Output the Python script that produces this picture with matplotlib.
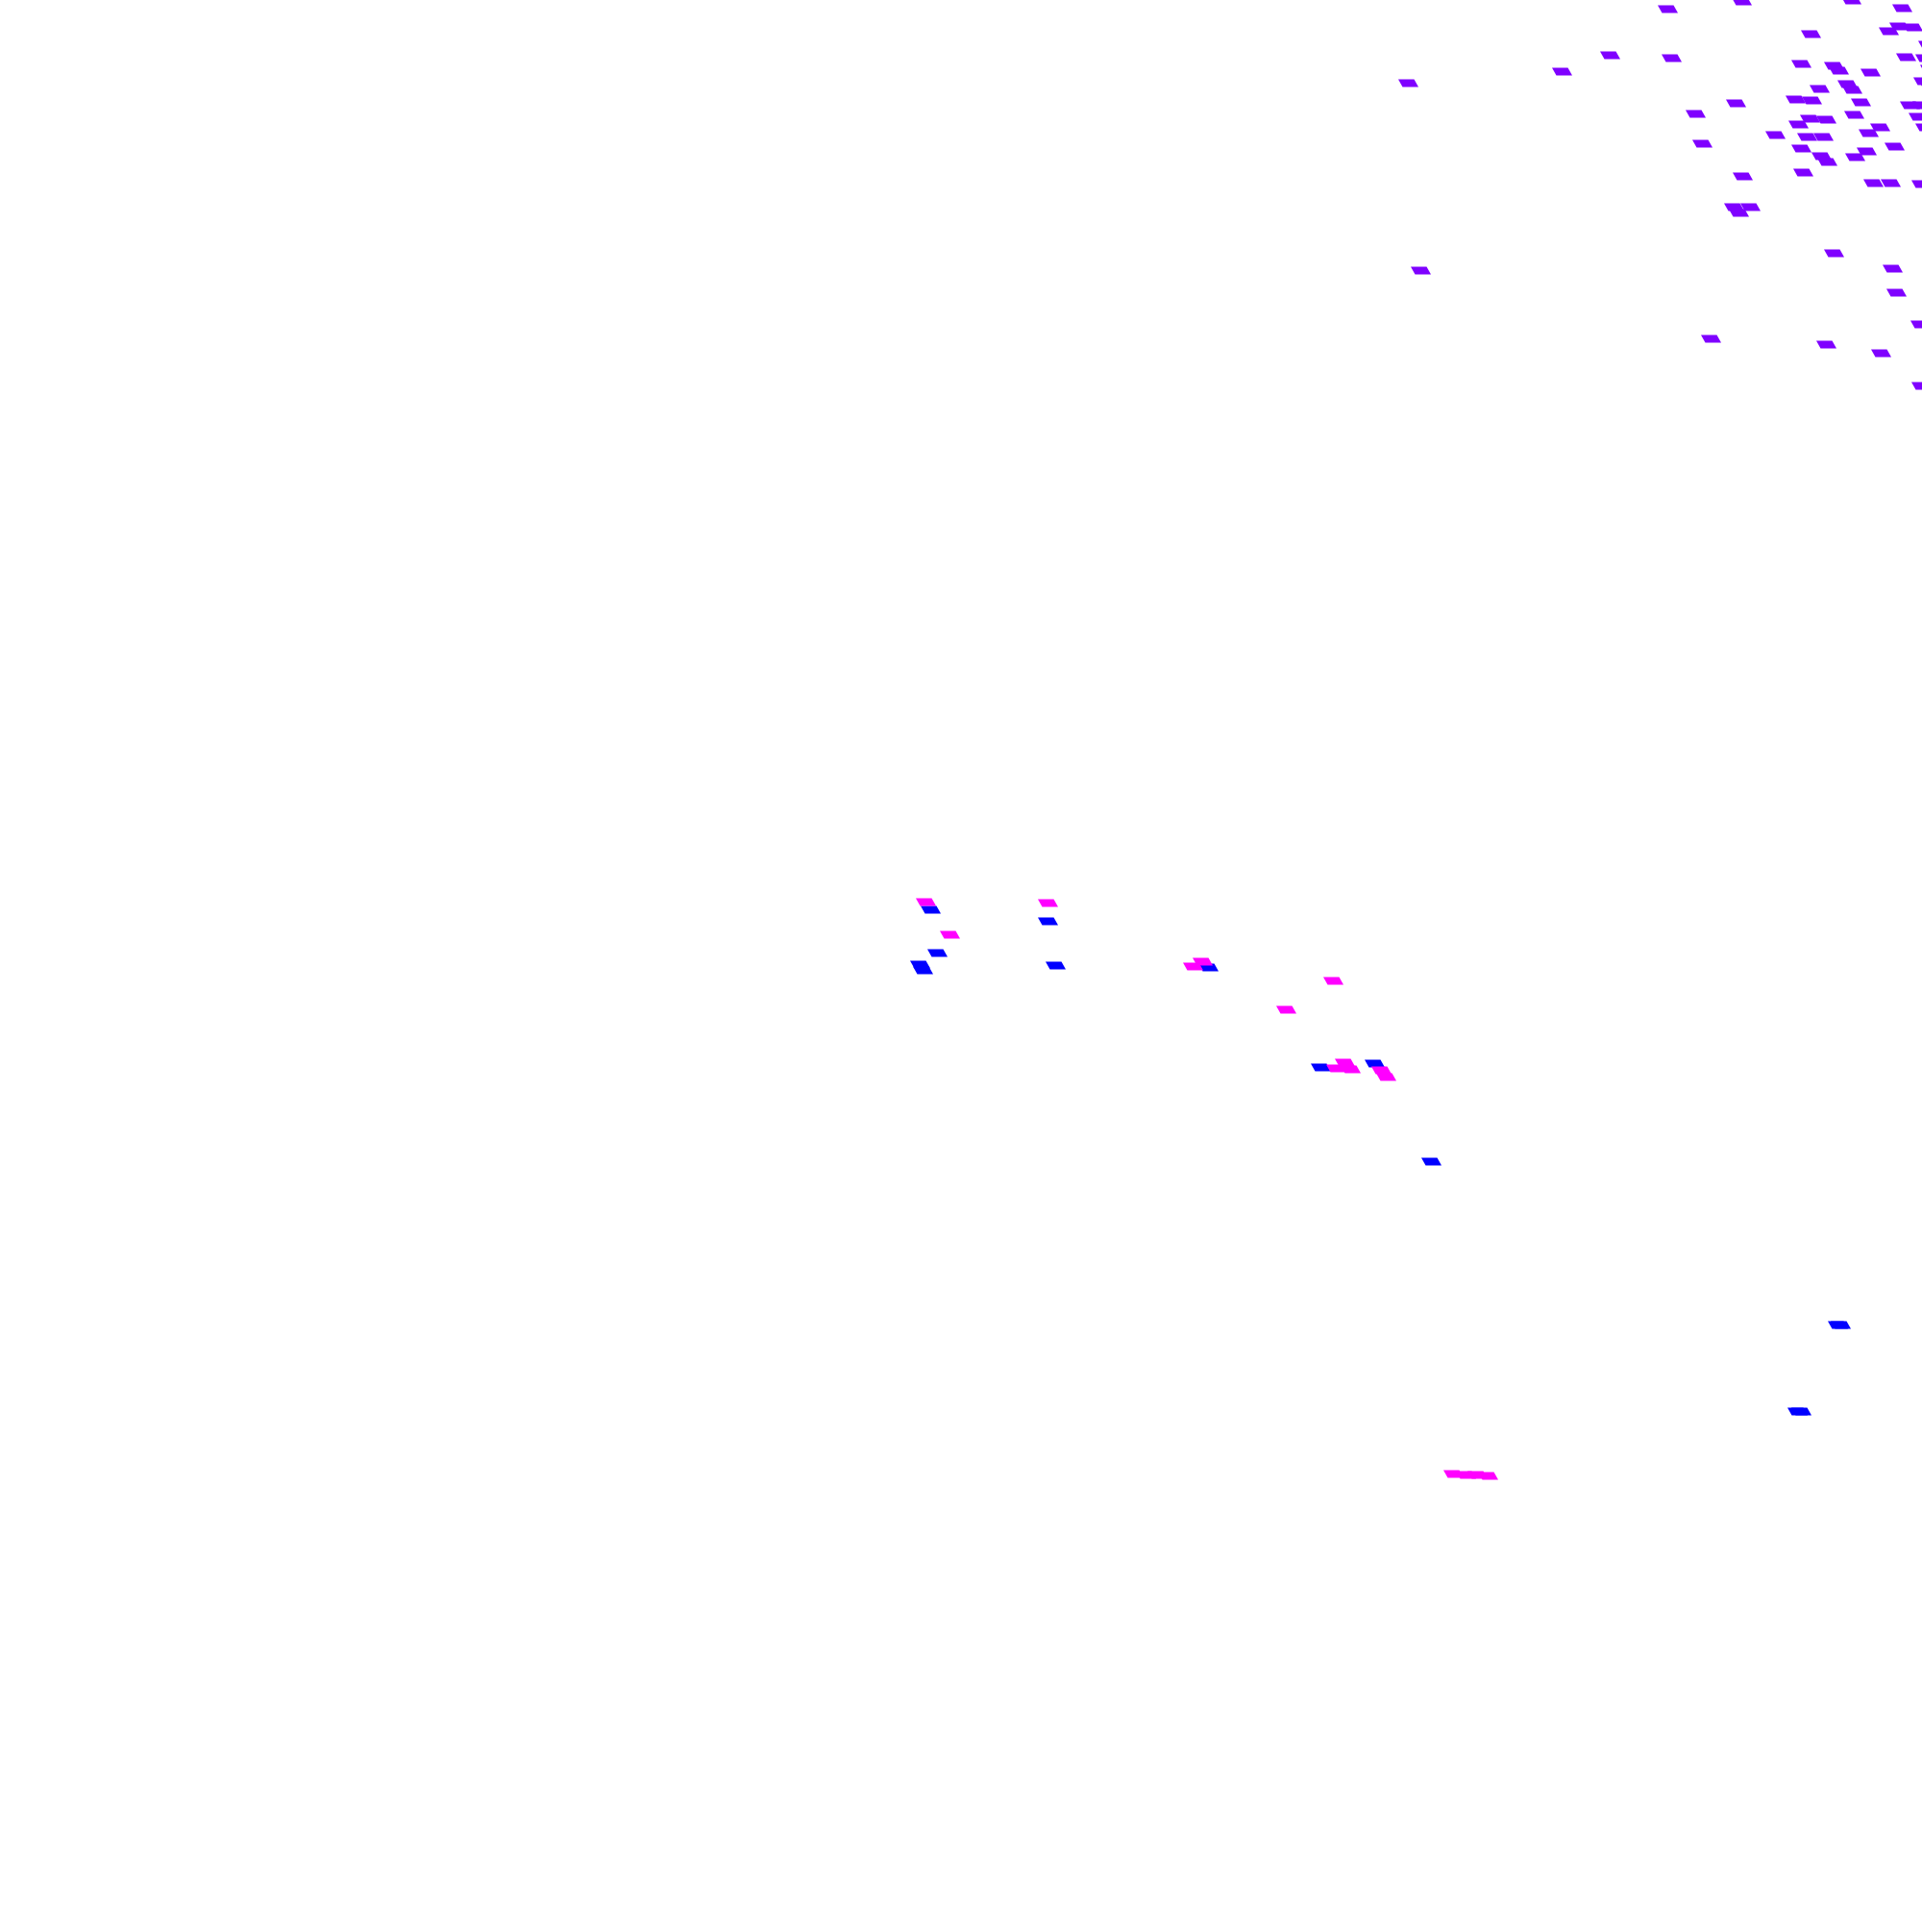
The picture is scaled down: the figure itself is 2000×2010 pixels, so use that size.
import matplotlib
matplotlib.use('Agg')
import matplotlib.pyplot as plt
from matplotlib.path import Path

# punkter (x, y i bildens enheter, y nedåt)
purple_x = [1465, 1625, 1735, 1812, 1675, 1739, 1806, 1764, 1771, 1813,
            1926, 1979, 1976, 1990, 1965, 1884, 2006, 1983, 2003, 2008,
            1874, 1908, 1913, 1946, 2001, 2007, 1893, 1922, 1927, 1868,
            1885, 1936, 1987, 2000, 1929, 1996, 2003, 1883, 1900, 1871,
            1956, 1944, 1847, 1880, 1897, 1971, 1874, 1942, 1895, 1901,
            1930, 1876, 1949, 1967, 1999, 1478, 1804, 1821, 1809, 1780,
            1908, 1969, 1973, 1998, 1900, 1957, 1999]
purple_y = [86, 74, 9, 1, 57, 60, 107, 118, 149, 183,
            0, 8, 27, 28, 32, 35, 46, 59, 60, 71,
            66, 68, 73, 75, 84, 88, 92, 87, 93, 103,
            104, 106, 109, 109, 119, 121, 132, 123, 124, 129,
            132, 138, 140, 142, 142, 152, 154, 157, 162, 168,
            163, 179, 190, 190, 191, 281, 215, 215, 221, 352,
            263, 279, 304, 337, 358, 367, 401]

magenta_x = [963, 1090, 988, 1251, 1241, 1387, 1338, 1399, 1405, 1390,
             1437, 1442, 1512, 1525, 1537, 1548]
magenta_y = [938, 939, 972, 1000, 1005, 1020, 1050, 1105, 1112, 1111,
             1113, 1120, 1533, 1534, 1534, 1535]

blue_x = [968, 1090, 975, 957, 960, 1098, 1257, 1374, 1430, 1489,
          1912, 1915, 1870, 1874]
blue_y = [946, 958, 991, 1003, 1009, 1004, 1006, 1110, 1106, 1208,
          1378, 1378, 1468, 1468]

fig = plt.figure(figsize=(20, 20.1), dpi=100)
ax = fig.add_axes([0, 0, 1, 1])
ax.set_xlim(0, 2000)
ax.set_ylim(2010, 0)
ax.axis('off')

# snedställd fyrkant som markör
verts = [(-10.5, 4.0), (6.0, 4.0), (10.5, -4.0), (-6.0, -4.0), (-10.5, 4.0)]
marker = Path(verts, [Path.MOVETO, Path.LINETO, Path.LINETO, Path.LINETO, Path.CLOSEPOLY])
size = (21 * 72 / 100) ** 2

ax.scatter(purple_x, purple_y, s=size, marker=marker, c='#7f00ff', linewidths=0, antialiased=False)
ax.scatter(blue_x, blue_y, s=size, marker=marker, c='#0000ff', linewidths=0, antialiased=False)
ax.scatter(magenta_x, magenta_y, s=size, marker=marker, c='#ff00ff', linewidths=0, antialiased=False)

fig.savefig('out.png', dpi=100, facecolor='white')
#plt.show()
